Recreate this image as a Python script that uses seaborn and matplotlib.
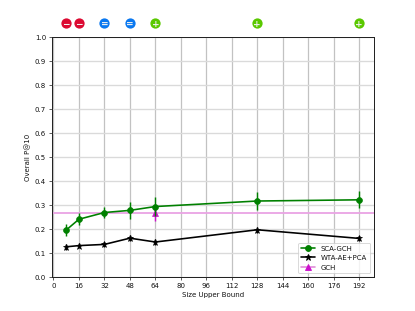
import matplotlib
matplotlib.use("Agg")
import matplotlib.pyplot as plt
from matplotlib.lines import Line2D
import pandas as pd
import seaborn as sns

sizes = [8, 16, 32, 48, 64, 128, 192]
sca_gch = [0.195, 0.240, 0.268, 0.277, 0.293, 0.316, 0.321]
sca_err = [0.024, 0.024, 0.024, 0.034, 0.040, 0.036, 0.036]
wta = [0.125, 0.130, 0.135, 0.161, 0.145, 0.196, 0.160]
wta_err = [0.012, 0.010, 0.012, 0.012, 0.012, 0.012, 0.010]
gch_size = [64]
gch_value = [0.265]
gch_err = [0.032]
y_ticks = [0.0, 0.1, 0.2, 0.3, 0.4, 0.5, 0.6, 0.7, 0.8, 0.9, 1.0]
x_ticks = list(range(0, 193, 16))
icon_signs = ["\u2212", "\u2212", "=", "=", "+", "+", "+"]
icon_colors = {"\u2212": "#dc0a32", "=": "#0a78f0", "+": "#5ac800"}

sns.set_theme(style="ticks", rc={"axes.linewidth": 0.8})
plt.rcParams["font.family"] = ["DejaVu Sans"]
plt.rcParams["text.color"] = "#111111"
fig, ax = plt.subplots(figsize=(6.4, 4.8), dpi=64.85)
fig.subplots_adjust(left=0.125, right=0.9, top=0.88, bottom=0.11)

sca_df = pd.DataFrame({"size": sizes, "value": sca_gch})
wta_df = pd.DataFrame({"size": sizes, "value": wta})
gch_df = pd.DataFrame({"size": gch_size, "value": gch_value})

ax.axhline(gch_value[0], color="#e9a3e4", lw=2.0, zorder=1.5)
sns.lineplot(data=sca_df, x="size", y="value", ax=ax, color="green", marker="o",
             markersize=6.5, markeredgecolor="green", lw=1.8, zorder=3)
ax.errorbar(sizes, sca_gch, yerr=sca_err, fmt="none", ecolor="green", elinewidth=1.6, zorder=3)
sns.lineplot(data=wta_df, x="size", y="value", ax=ax, color="black", marker="*",
             markersize=7, markeredgecolor="black", lw=1.8, zorder=3)
ax.errorbar(sizes, wta, yerr=wta_err, fmt="none", ecolor="black", elinewidth=1.6, zorder=3)
sns.lineplot(data=gch_df, x="size", y="value", ax=ax, color="#cc11cc", marker="^",
             markersize=6.5, markeredgecolor="#cc11cc", zorder=2.5)
ax.errorbar(gch_size, gch_value, yerr=gch_err, fmt="none", ecolor="#cc11cc", elinewidth=1.6, zorder=2.5)

ax.set_xlim(-1, 201)
ax.set_ylim(0, 1)
ax.set_xticks(x_ticks)
ax.set_yticks(y_ticks)
ax.grid(axis="x", color="#c2c2c2", lw=1.4, zorder=1)
ax.grid(axis="y", color="#dadada", lw=1.5, zorder=1)
ax.set_axisbelow(True)
ax.tick_params(labelsize=7.8, length=3.5, width=0.8, pad=3, color="#222222", labelcolor="#111111")
ax.set_xlabel("Size Upper Bound", fontsize=7.8, color="#111111", labelpad=3)
ax.set_ylabel("Overall P@10", fontsize=7.8, color="#111111", labelpad=4)
for s in ax.spines.values():
    s.set_visible(True)
    s.set_color("#222222")
    s.set_linewidth(1.1)

trans = ax.get_xaxis_transform()
for x, sign in zip(sizes, icon_signs):
    ax.scatter([x], [1.057], s=130, color=icon_colors[sign], transform=trans,
               clip_on=False, zorder=5, linewidths=0)
    ax.text(x, 1.057, sign, transform=trans, ha="center", va="center_baseline", color="#f2f2f2",
            fontsize=10, fontweight="bold", zorder=6)

handles = [
    Line2D([], [], color="green", lw=1.8, marker="o", markersize=6.5),
    Line2D([], [], color="black", lw=1.8, marker="*", markersize=7),
    Line2D([], [], color="#e08ad8", lw=1.8, marker="^", markersize=6.5,
           markerfacecolor="#cc11cc", markeredgecolor="#cc11cc"),
]
ax.legend(handles, ["SCA-GCH", "WTA-AE+PCA", "GCH"], loc="lower right", fontsize=7.8,
          frameon=True, framealpha=0.8, edgecolor="#cccccc", labelcolor="#111111")
fig.savefig("out.png", dpi=64.85)
